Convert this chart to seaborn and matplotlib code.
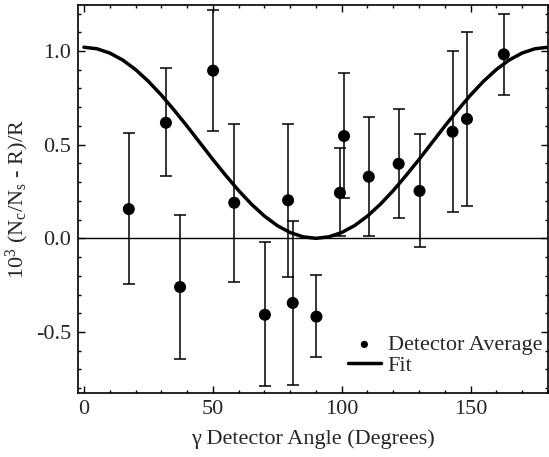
import numpy as np
import matplotlib
matplotlib.use('Agg')
import matplotlib.pyplot as plt
import seaborn as sns

# detector averages
angle = [17.4, 31.8, 37.3, 50.1, 58.3, 70.2, 79.2, 81.0, 90.2, 99.3,
         100.9, 110.5, 122.1, 130.2, 143.0, 148.6, 162.9]
value = [0.156, 0.617, -0.26, 0.895, 0.19, -0.408, 0.203, -0.345, -0.418, 0.243,
         0.546, 0.329, 0.398, 0.253, 0.569, 0.637, 0.982]
err_low = [-0.246, 0.333, -0.646, 0.573, -0.232, -0.79, -0.208, -0.783, -0.635, 0.012,
           0.214, 0.014, 0.11, -0.048, 0.14, 0.174, 0.765]
err_high = [0.56, 0.908, 0.124, 1.219, 0.609, -0.021, 0.61, 0.094, -0.196, 0.48,
            0.881, 0.646, 0.689, 0.558, 1.0, 1.101, 1.196]

# fit curve read every 5 degrees
fit_angle = list(range(0, 181, 5))
fit_value = [1.02, 1.012, 0.989, 0.952, 0.901, 0.838, 0.765, 0.684, 0.599, 0.510,
             0.421, 0.336, 0.255, 0.182, 0.119, 0.068, 0.031, 0.008, 0.0,
             0.008, 0.031, 0.068, 0.119, 0.182, 0.255, 0.336, 0.421, 0.510,
             0.599, 0.684, 0.765, 0.838, 0.901, 0.952, 0.989, 1.012, 1.02]

sns.set_style('ticks')
plt.rcParams['font.family'] = ['Liberation Serif', 'DejaVu Serif']
plt.rcParams['mathtext.fontset'] = 'stix'
plt.rcParams['mathtext.default'] = 'regular'
plt.rcParams['axes.unicode_minus'] = False

fig = plt.figure(figsize=(5.49, 4.57), dpi=100)
ax = fig.add_axes([0.1426, 0.1407, 0.8554, 0.849])

ax.axhline(0, color='black', lw=1.0, zorder=1)

lo = np.array(value) - np.array(err_low)
hi = np.array(err_high) - np.array(value)
ax.errorbar(angle, value, yerr=[lo, hi], fmt='none', ecolor='black',
            elinewidth=1.1, capsize=4, capthick=1.1, zorder=2)

sns.lineplot(x=fit_angle, y=fit_value, ax=ax, color='black', lw=2.5,
             label='Fit', zorder=3)
sns.scatterplot(x=angle, y=value, ax=ax, color='black', s=75,
                edgecolor='none', label='Detector Average', zorder=4)

ax.set_xlim(-2.2, 180)
ax.set_ylim(-0.824, 1.247)
ax.set_xticks([0, 50, 100, 150])
ax.set_xticks(np.arange(0, 181, 10), minor=True)
ax.set_yticks([-0.5, 0.0, 0.5, 1.0])
ax.set_yticklabels(['-0.5', '0.0', '0.5', '1.0'])
ax.set_yticks(np.arange(-0.8, 1.25, 0.1), minor=True)
ax.tick_params(which='both', direction='in', top=True, right=True,
               labelsize=16, width=1.0, color='black')
ax.tick_params(which='major', length=5, pad=5)
ax.tick_params(which='minor', length=2.5)
for s in ax.spines.values():
    s.set_linewidth(1.2)
    s.set_color('black')

ax.set_xlabel('\u03b3 Detector Angle (Degrees)', fontsize=16, labelpad=8)
ax.set_ylabel(r'$10^3$ (N$_c$/N$_s$ - R)/R', fontsize=16, labelpad=4)

handles, labels = ax.get_legend_handles_labels()
ax.legend(handles[::-1], labels[::-1], loc='lower left', bbox_to_anchor=(0.55, 0.015),
          frameon=False, fontsize=16, handlelength=1.5, handletextpad=0.3,
          labelspacing=0.0, borderpad=0, markerscale=0.6)

fig.savefig('out.png', dpi=100)
